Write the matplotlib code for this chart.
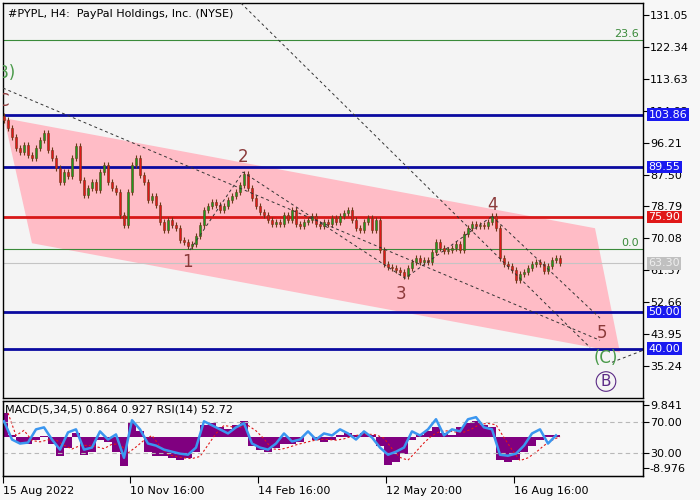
import matplotlib
matplotlib.use("Agg")
import matplotlib.pyplot as plt
import matplotlib.transforms as mtransforms
import numpy as np

# ---- price data (H4 closes, sampled) ----
first_open = 103.5
closes = [102.4, 100.2, 97.7, 94.7, 93.6, 95.5, 92.8, 92.0, 94.7, 96.9,
          98.8, 94.2, 92.0, 89.2, 85.4, 88.2, 87.1, 92.0, 95.3, 86.0,
          81.9, 83.8, 85.4, 83.2, 88.2, 90.1, 85.4, 83.8, 82.7, 76.4,
          73.7, 82.7, 90.1, 92.0, 87.3, 85.4, 80.5, 81.6, 79.1, 74.5,
          72.3, 75.0, 73.7, 72.9, 69.6, 69.0, 67.9, 68.5, 70.7, 73.7,
          77.8, 78.9, 80.0, 79.1, 77.8, 78.9, 80.5, 81.6, 82.7, 84.6,
          87.6, 83.8, 81.1, 78.9, 77.2, 76.4, 75.0, 74.0, 74.5, 74.0,
          76.4, 75.0, 77.8, 74.0, 73.4, 74.5, 75.0, 76.1, 74.0, 73.4,
          74.5, 74.0, 75.6, 74.5, 76.1, 77.0, 77.8, 75.0, 72.9, 72.3,
          74.5, 75.6, 72.3, 75.0, 66.8, 63.0, 62.2, 61.9, 61.4, 60.8,
          59.7, 61.9, 63.6, 64.7, 63.6, 64.1, 63.6, 66.3, 69.0, 67.4,
          66.6, 66.8, 67.4, 68.5, 66.8, 71.2, 72.9, 74.0, 73.4, 73.7,
          73.4, 74.5, 76.1, 72.9, 64.7, 63.0, 62.5, 61.4, 58.6, 60.3,
          60.8, 61.9, 63.0, 63.6, 63.0, 61.1, 62.5, 64.1, 64.7, 63.3]

# indicator values, one per two bars
macd = [7.3, 0.6, -1.5, -1.8, -0.6, 0.3, -1.8, -5.5, -3.0, 1.2,
        -5.2, -4.2, -0.6, -1.2, -4.2, -8.5, 4.2, 1.8, -4.2, -5.5,
        -5.5, -6.1, -6.7, -6.1, -4.2, 3.6, 4.2, 3.0, 2.4, 3.6,
        4.8, -2.4, -3.6, -4.2, -3.0, -1.8, -1.8, -1.2, 0.0, -0.6,
        -1.2, -0.6, 0.6, 1.2, 0.6, 1.2, 0.6, -2.4, -8.2, -7.3,
        -4.8, -0.6, 0.6, 1.8, 3.0, 1.2, 0.6, 3.0, 4.2, 4.8,
        3.6, 3.0, -6.7, -7.3, -6.7, -4.2, -2.4, -0.6, 0.6, 0.864]
rsi = [71.3, 47.3, 42.0, 43.3, 60.7, 63.3, 47.3, 34.0, 56.7, 60.7,
       34.0, 36.7, 58.0, 47.3, 54.0, 23.3, 72.7, 60.7, 42.0, 39.3,
       34.0, 31.3, 28.7, 27.3, 36.7, 71.3, 66.0, 60.7, 55.3, 63.3,
       68.7, 42.0, 36.7, 34.0, 42.0, 55.3, 44.7, 47.3, 58.0, 47.3,
       55.3, 52.7, 60.7, 55.3, 47.3, 58.0, 50.0, 36.7, 27.3, 31.3,
       36.7, 58.0, 52.7, 60.7, 74.0, 52.7, 60.7, 58.0, 74.0, 76.7,
       63.3, 60.7, 27.3, 26.0, 28.7, 39.3, 55.3, 60.7, 42.0, 52.72]

# levels
blue_levels = [103.86, 89.55, 50.00, 40.00]
red_level = 75.90
last_price = 63.30
fib_levels = {"23.6": 124.2, "0.0": 67.1}
price_ticks = [131.05, 122.34, 113.63, 104.92, 96.21, 87.50, 78.79,
               70.08, 61.37, 52.66, 43.95, 35.24]

# channel and trend lines (bar index, price)
channel = [(0, 102.9), (147.75, 72.85), (154, 38.9), (7, 68.75)]
trend_lines = [[(-0.25, 111.1), (149, 42.25)],
               [(59.25, 134.3), (146.5, 40.3)],
               [(122, 76.1), (149, 48.3)],
               [(46.5, 66.9), (59.75, 88.15), (100.25, 59.2), (122, 76.1)],
               [(152, 36.25), (159.75, 39.5)]]
wave_labels = [("1", 45.75, 63.6), ("2", 59.75, 92.25), ("3", 99.25, 54.8),
               ("4", 122, 79.1), ("5", 149.5, 44.2), ("C", -0.2, 107.6)]

date_ticks = [-0.25, 31.5, 63.5, 95.5, 127.5]
date_labels = ["15 Aug 2022", "10 Nov 16:00", "14 Feb 16:00",
               "12 May 20:00", "16 Aug 16:00"]

plt.rcParams['font.family'] = ['DejaVu Sans']

fig = plt.figure(figsize=(7, 5), dpi=100, facecolor="#f7f7f7")
ax = fig.add_axes([3/700, 102/500, 640/700, 395/500])
axi = fig.add_axes([3/700, 24/500, 640/700, 75/500])
for a in (ax, axi):
    a.set_facecolor("#f4f4f4")
    for s in a.spines.values():
        s.set_color("black")
        s.set_linewidth(1.0)

ax.set_xlim(-0.25, 159.75)
ax.set_ylim(26.5, 134.33)

# channel
ax.add_patch(plt.Polygon(channel, closed=True, facecolor="#ffbcc6",
                         edgecolor="none", zorder=1))

# horizontal levels
for lv in blue_levels:
    ax.axhline(lv, color="#0a0aa0", lw=2, zorder=2)
ax.axhline(red_level, color="#d81818", lw=2, zorder=2)
ax.axhline(last_price, color="#c4c4c4", lw=0.8, zorder=2)
for name, lv in fib_levels.items():
    ax.axhline(lv, color="#3a8a3a", lw=0.8, zorder=2)
    ax.text(158.8, lv + 0.4, name, color="#3a8a3a", fontsize=8,
            ha="right", va="bottom", zorder=5)

# candles
c = np.array(closes)
o = np.concatenate([[first_open], c[:-1]])
x = np.arange(len(c))
up = c >= o
lo = np.minimum(o, c)
hi = np.maximum(o, c)
ax.vlines(x, lo - 0.8, hi + 0.8, color="#6b3a1a", lw=0.8, zorder=3)
ax.bar(x, np.maximum(hi - lo, 0.3), bottom=lo, width=0.6,
       color=np.where(up, "#1f9a1f", "#e01818"),
       edgecolor="#6b3a1a", linewidth=0.4, zorder=4)

# dashed lines
for pts in trend_lines:
    xs, ys = zip(*pts)
    ax.plot(xs, ys, color="#333333", lw=0.7, ls=(0, (3, 3)), zorder=4)

# wave labels
for t, xi, yi in wave_labels:
    ax.text(xi, yi, t, color="#8b3a3a", fontsize=12, ha="center",
            va="center", zorder=5, clip_on=True)
ax.text(0, 115.2, "(B)", color="#4a9a4a", fontsize=12, ha="center",
        va="center", zorder=5, clip_on=True)
ax.text(150.5, 37.3, "(C)", color="#4a9a4a", fontsize=12, ha="center",
        va="center", zorder=5)
ax.text(150.5, 31.0, "B", color="#5b2a86", fontsize=11, ha="center",
        va="center", zorder=5,
        bbox=dict(boxstyle="circle,pad=0.15", fc="none", ec="#5b2a86", lw=0.8))

ax.text(0.008, 0.985, "#PYPL, H4:  PayPal Holdings, Inc. (NYSE)",
        transform=ax.transAxes, fontsize=8, ha="left", va="top")

# right price axis
ax.yaxis.tick_right()
ax.set_yticks(price_ticks)
ax.set_yticklabels([f"{v:.2f}" for v in price_ticks])
ax.tick_params(axis="y", direction="out", length=4, labelsize=8, pad=1)
ax.set_xticks([])

trans = mtransforms.blended_transform_factory(ax.transAxes, ax.transData)
boxes = [(103.86, "#1a1af0", "white"), (89.55, "#1a1af0", "white"),
         (75.90, "#e01818", "white"), (63.30, "#c0c0c0", "#eeeeee"),
         (50.00, "#1a1af0", "white"), (40.00, "#1a1af0", "white")]
for val, bg, fg in boxes:
    ax.text(1.0085, val, f"{val:.2f}", transform=trans, fontsize=8,
            color=fg, ha="left", va="center", clip_on=False, zorder=6,
            bbox=dict(boxstyle="square,pad=0.12", fc=bg, ec="none"))

# indicator panel
axi.set_xlim(-0.25, 159.75)
axi.set_ylim(-0.7, 98)
xi = np.arange(len(macd)) * 2
axm = axi.twinx()
axm.set_ylim(-11.5, 10.9)
axm.set_yticks([])
m = np.array(macd)
axm.bar(xi, m, width=2.0, color="#800080", zorder=2)
sig = np.convolve(m, np.ones(3) / 3, mode="full")[:len(m)]
sig[:2] = m[:2]
axm.plot(xi + 1, sig, color="#e01818", lw=0.8, ls=(0, (2, 2)), zorder=3)
axi.set_zorder(axm.get_zorder() + 1)
axi.patch.set_visible(False)
axm.set_facecolor("#f4f4f4")
axi.axhline(70, color="#b8b8b8", lw=0.8, ls=(0, (4, 3)))
axi.axhline(30, color="#b8b8b8", lw=0.8, ls=(0, (4, 3)))
axi.plot(xi, rsi, color="#3a96f0", lw=1.8, zorder=4)
axi.text(0.003, 0.88, "MACD(5,34,5) 0.864 0.927 RSI(14) 52.72",
         transform=axi.transAxes, fontsize=8, ha="left", va="center")

axi.yaxis.tick_right()
axi.set_yticks([92.7, 70, 30, 10])
axi.set_yticklabels(["9.841", "70.00", "30.00", "-8.976"])
axi.tick_params(axis="y", direction="out", length=4, labelsize=8, pad=1)
axi.set_xticks(date_ticks)
axi.set_xticklabels(date_labels, ha="left")
axi.tick_params(axis="x", direction="out", length=5, labelsize=8, pad=2)

fig.savefig("out.png", dpi=100, facecolor=fig.get_facecolor())
